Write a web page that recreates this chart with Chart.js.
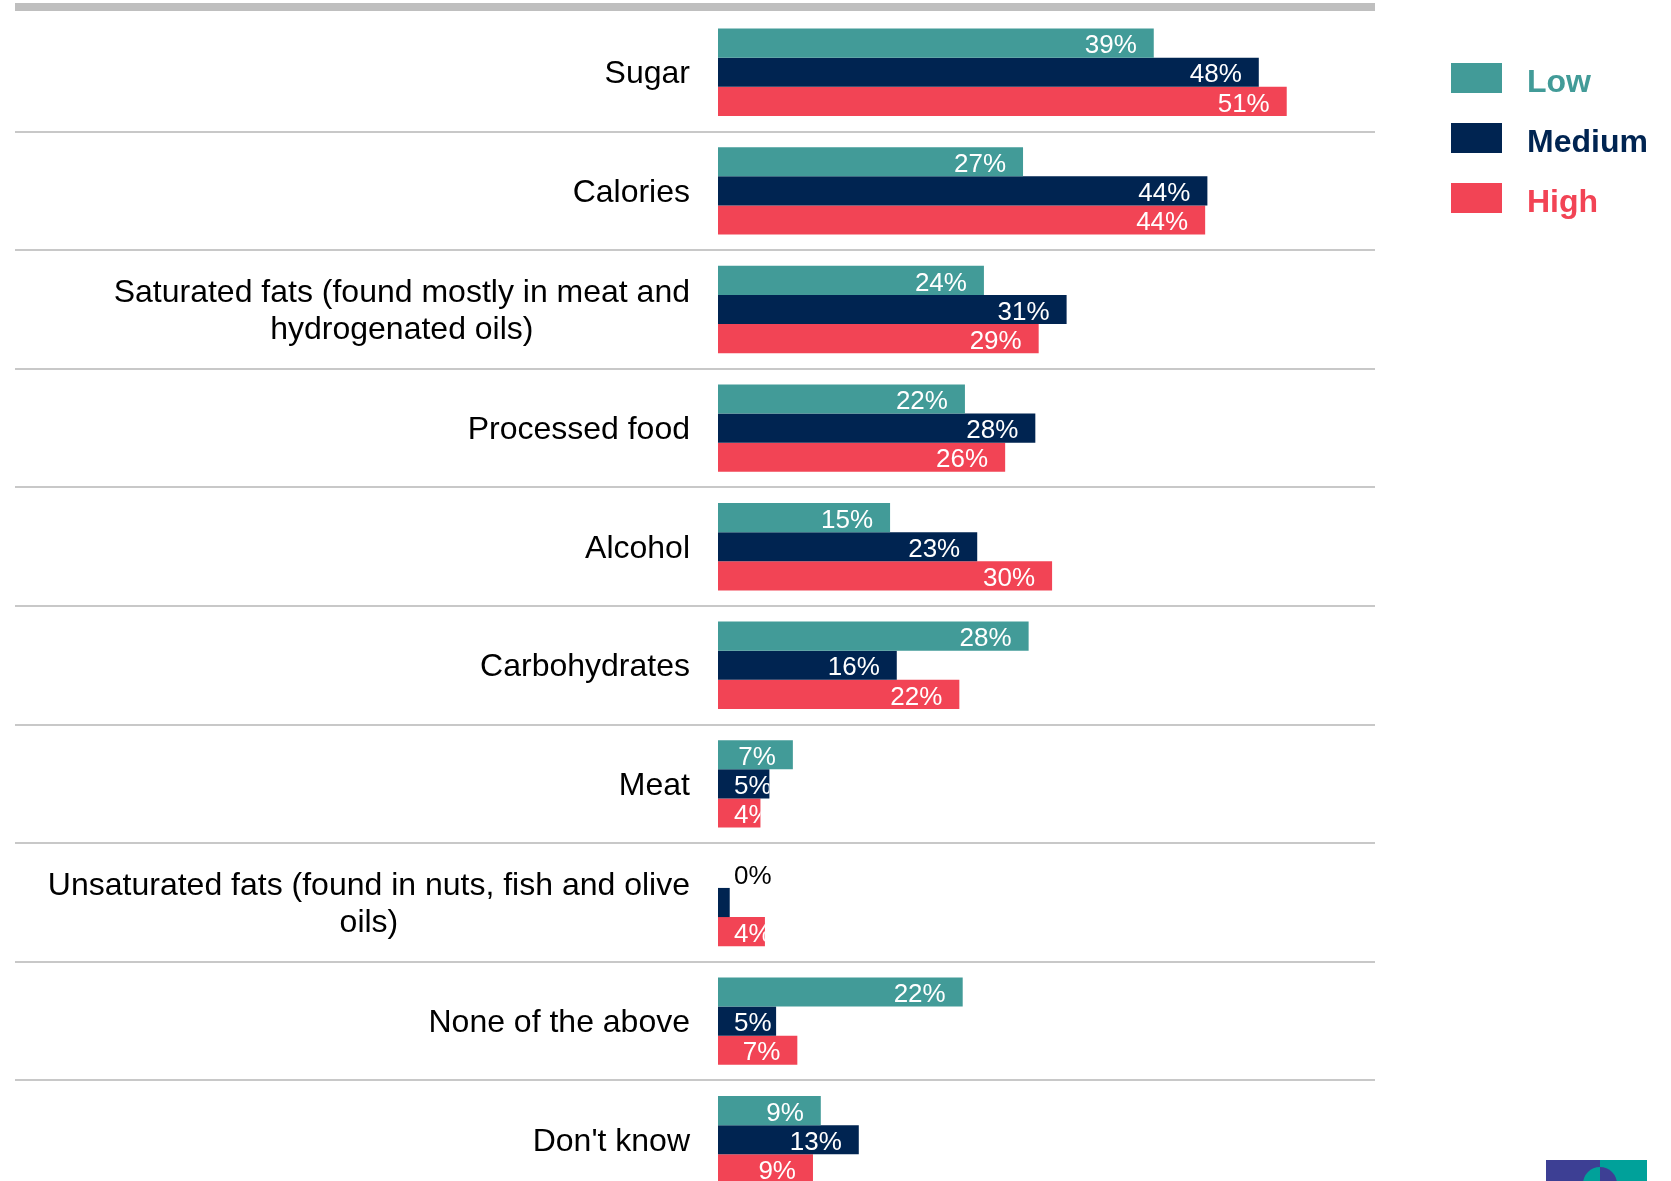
<!DOCTYPE html>
<html>
<head>
<meta charset="utf-8">
<script src="https://cdn.jsdelivr.net/npm/chart.js@4.4.0/dist/chart.umd.min.js"></script>
<style>
body { margin:0; overflow:hidden; background:#fff; width:1671px; height:1181px; font-family:"Liberation Sans", Arial, sans-serif; }
#wrap { position:absolute; left:0; top:0; width:1671px; height:1199px; }
#legend { position:absolute; left:1451px; top:63px; }
#legend .item { display:flex; align-items:center; height:30px; margin-bottom:30px; }
#legend .box { width:51px; height:30px; margin-right:25px; }
#legend .txt { font-weight:bold; font-size:32px; line-height:30px; position:relative; top:3px; }
.logo { position:absolute; top:1160px; height:30px; }
</style>
</head>
<body>
<div id="wrap"><canvas id="chart" width="1671" height="1199"></canvas></div>
<div id="legend"></div>
<div class="logo" style="left:1546px;width:54px;background:#3d3f94"></div>
<div class="logo" style="left:1600px;width:47px;background:#00a19a"></div>
<div class="logo" style="left:1583px;top:1167px;width:34px;height:34px;border-radius:50%;background:linear-gradient(90deg,#00a19a 50%,#3d3f94 50%)"></div>
<script>
// categories (top to bottom)
const categories = [
    "Sugar",
    "Calories",
    ["Saturated fats (found mostly in meat and", "hydrogenated oils)"],
    "Processed food",
    "Alcohol",
    "Carbohydrates",
    "Meat",
    ["Unsaturated fats (found in nuts, fish and olive", "oils)"],
    "None of the above",
    "Don't know"
];

// % of respondents
const lowValues    = [39, 27.3, 23.8, 22.1, 15.4, 27.8, 6.7, 0,   21.9, 9.2];
const mediumValues = [48.4, 43.8, 31.2, 28.4, 23.2, 16.0, 4.6, 1.05, 5.2, 12.6];
const highValues   = [50.9, 43.6, 28.7, 25.7, 29.9, 21.6, 3.8, 4.2, 7.1, 8.5];

const seriesNames  = ["Low", "Medium", "High"];
const seriesColors = ["#429b98", "#002451", "#f24455"];

const FONT = '"Liberation Sans", Arial, sans-serif';

// thick top rule + thin separators between the categories
const separators = {
    id: 'separators',
    beforeDatasetsDraw(chart) {
        const ctx = chart.ctx;
        const area = chart.chartArea;
        const y = chart.scales.y;
        ctx.save();
        ctx.fillStyle = '#bfbfbf';
        ctx.fillRect(15, area.top - 10, area.right - 15, 8);
        ctx.strokeStyle = '#c8c8c8';
        ctx.lineWidth = 2;
        for (let i = 0; i < categories.length - 1; i++) {
            const py = Math.round((y.getPixelForValue(i) + y.getPixelForValue(i + 1)) / 2);
            ctx.beginPath();
            ctx.moveTo(15, py);
            ctx.lineTo(area.right, py);
            ctx.stroke();
        }
        ctx.restore();
    }
};

// category names: right aligned block, lines centred inside it
const catLabels = {
    id: 'catLabels',
    afterDraw(chart) {
        const ctx = chart.ctx;
        const y = chart.scales.y;
        const xr = chart.chartArea.left - 28;
        ctx.save();
        ctx.font = '32px ' + FONT;
        ctx.fillStyle = '#000';
        ctx.textAlign = 'center';
        ctx.textBaseline = 'middle';
        categories.forEach((c, i) => {
            const lines = Array.isArray(c) ? c : [c];
            const w = Math.max(...lines.map(l => ctx.measureText(l).width));
            const lh = 37;
            const cy = y.getPixelForValue(i) + 2;
            lines.forEach((l, k) => {
                ctx.fillText(l, xr - w / 2, cy + (k - (lines.length - 1) / 2) * lh);
            });
        });
        ctx.restore();
    }
};

// value labels inside the bar end, clipped to the bar
const valueLabels = {
    id: 'valueLabels',
    afterDatasetsDraw(chart) {
        const ctx = chart.ctx;
        ctx.save();
        ctx.font = '26px ' + FONT;
        ctx.textBaseline = 'middle';
        ctx.textAlign = 'left';
        chart.data.datasets.forEach((ds, di) => {
            chart.getDatasetMeta(di).data.forEach((bar, i) => {
                const v = ds.data[i];
                const txt = Math.round(v) + '%';
                const w = ctx.measureText(txt).width;
                const x = Math.max(bar.x - 17 - w, bar.base + 16);
                ctx.save();
                if (v === 0) {
                    ctx.fillStyle = '#000';
                } else {
                    ctx.beginPath();
                    ctx.rect(bar.base, bar.y - bar.height / 2, bar.x - bar.base, bar.height);
                    ctx.clip();
                    ctx.fillStyle = '#fff';
                }
                ctx.fillText(txt, x, bar.y + 3);
                ctx.restore();
            });
        });
        ctx.restore();
    }
};

const allValues = [lowValues, mediumValues, highValues];

const chart = new Chart(document.getElementById('chart'), {
    type: 'bar',
    data: {
        labels: categories,
        datasets: seriesNames.map((n, i) => ({
            label: n,
            data: allValues[i],
            backgroundColor: seriesColors[i],
            borderWidth: 0,
            barPercentage: 1,
            categoryPercentage: 0.737
        }))
    },
    options: {
        indexAxis: 'y',
        responsive: false,
        animation: false,
        layout: { padding: { top: 13, right: 296, left: 0, bottom: 0 } },
        plugins: { legend: { display: false }, tooltip: { enabled: false } },
        scales: {
            x: { display: false, min: 0, max: 58.8 },
            y: {
                grid: { display: false },
                border: { display: false },
                ticks: { display: false },
                afterFit(s) { s.width = 718; }
            }
        }
    },
    plugins: [separators, catLabels, valueLabels]
});

// legend
var legend = document.getElementById('legend');
chart.data.datasets.forEach(ds => {
    var item = document.createElement('div');
    item.className = 'item';
    item.innerHTML = '<div class="box" style="background:' + ds.backgroundColor + '"></div>' +
        '<div class="txt" style="color:' + ds.backgroundColor + '">' + ds.label + '</div>';
    legend.appendChild(item);
});
</script>
</body>
</html>
